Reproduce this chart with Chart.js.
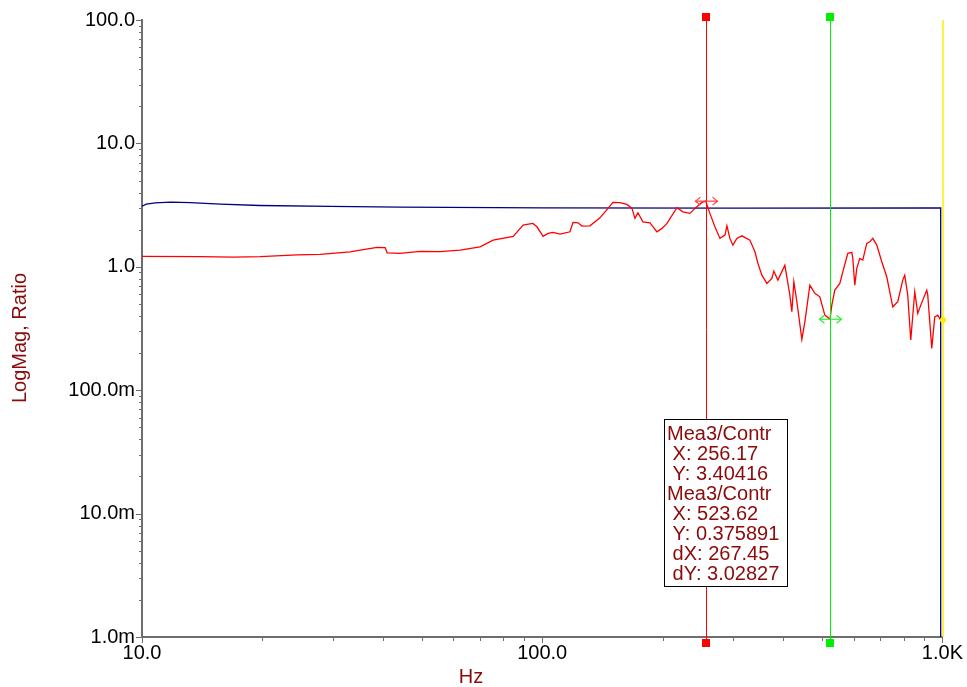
<!DOCTYPE html>
<html>
<head>
<meta charset="utf-8">
<title>LogMag, Ratio</title>
<script src="https://cdn.jsdelivr.net/npm/chart.js@4/dist/chart.umd.min.js"></script>
<style>
  html, body { margin: 0; padding: 0; background: #ffffff; }
  #wrap { width: 967px; height: 687px; }
</style>
</head>
<body>
<div id="wrap"><canvas id="chart" width="967" height="687"></canvas></div>
<script>
// Measured trace: frequency (Hz) and magnitude ratio
const measFreq = [10, 13.98, 16.9, 19.74, 24.42, 27.87, 33.12, 35.09, 38.68, 40.51, 40.98, 44.16, 49.55, 55.58,
  62.35, 69.94, 75.4, 84.6, 89.6, 91.6, 94.8, 97.0, 100.5, 103.4, 106.4, 110.8, 117.3, 119.4, 122.9, 125.7,
  131.6, 139.4, 146.0, 150.2, 156.4, 162.8, 167.6, 170.5, 173.5, 178.5, 185.9, 193.5, 199.2, 205.0, 217.1,
  224.7, 233.9, 240.7, 250.6, 256.17, 262.4, 270.1, 278.0, 286.2, 289.4, 294.4, 299.5, 306.5, 315.4, 330.3,
  340.0, 345.9, 353.9, 364.2, 374.8, 379.1, 388.0, 403.9, 415.7, 420.5, 425.4, 432.8, 445.4, 453.2, 466.4,
  479.9, 493.9, 508.3, 523.62, 529.2, 538.4, 554.1, 563.7, 580.2, 593.7, 597.1, 604.0, 610.9, 621.6, 632.4,
  647.1, 658.4, 669.9, 685.5, 705.4, 725.9, 738.6, 751.5, 773.4, 795.9, 805.1, 819.1, 833.4, 852.8, 867.7,
  882.8, 893.0, 913.8, 919.1, 940.4, 956.8, 973.4, 990.4];
const measMag = [1.214, 1.21, 1.198, 1.21, 1.251, 1.26, 1.323, 1.366, 1.436, 1.431, 1.299, 1.284, 1.333, 1.328,
  1.366, 1.453, 1.646, 1.764, 2.177, 2.206, 2.247, 2.11, 1.764, 1.865, 1.9, 1.841, 1.921, 2.29, 2.273, 2.137,
  2.149, 2.495, 2.973, 3.325, 3.313, 3.204, 2.973, 2.467, 2.74, 2.316, 2.273, 1.921, 2.047, 2.247, 3.018,
  2.791, 2.709, 2.973, 3.325, 3.40416, 2.709, 2.11, 1.699, 1.807, 2.149, 1.699, 1.499, 1.699, 1.783, 1.646,
  1.323, 1.066, 0.856, 0.734, 0.805, 0.923, 0.78, 1.032, 0.59, 0.432, 0.756, 0.521, 0.258, 0.358, 0.711,
  0.609, 0.571, 0.406, 0.375891, 0.489, 0.647, 0.734, 0.911, 1.284, 1.308, 1.17, 0.711, 0.971, 1.17, 1.133,
  1.547, 1.594, 1.699, 1.499, 1.098, 0.83, 0.627, 0.474, 0.521, 0.78, 0.856, 0.59, 0.255, 0.627, 0.419,
  0.489, 0.537, 0.647, 0.59, 0.218, 0.393, 0.406, 0.37];

// Reference trace (ends with a drop below the axis floor)
const refFreq = [10, 10.25, 10.8, 11.8, 13.2, 15.7, 19.7, 29.5, 44.2, 100, 300, 990, 990.01];
const refMag = [3.1, 3.22, 3.3, 3.34, 3.31, 3.22, 3.14, 3.09, 3.04, 3.0, 2.99, 3.0, 0.000001];

// Axis ticks
const xDecades = [10, 100];
const xMajorValues = [10, 100, 1000];
const xMajorLabels = ['10.0', '100.0', '1.0K'];
const yDecades = [0.001, 0.01, 0.1, 1, 10];
const yMajorValues = [0.001, 0.01, 0.1, 1, 10, 100];
const yMajorLabels = ['1.0m', '10.0m', '100.0m', '1.0', '10.0', '100.0'];

// Cursor readouts
const cursorNames = ['Mea3/Contr', 'Mea3/Contr'];
const cursorFreq = [256.17, 523.62];
const cursorMag = [3.40416, 0.375891];
const cursorColors = ['#ff0000', '#00ee00'];
const arrowColors = ['#ff3b3b', '#33ee33'];
const endCursorFreq = 1000;
const endCursorMag = 0.37;

const TEXT_RED = '#8b0a0a';
const AXIS_GREY = '#6e6e6e';
const FONT = "'Liberation Sans', Arial, Helvetica, sans-serif";

function decadeTicks(decades, last) {
  const out = [];
  decades.forEach(d => { for (let k = 1; k <= 9; k++) out.push(+(k * d).toPrecision(4)); });
  out.push(last);
  return out;
}
const xTickValues = decadeTicks(xDecades, 1000);
const yTickValues = decadeTicks(yDecades, 100);

function majorLabel(value, majors, labels) {
  for (let i = 0; i < majors.length; i++) {
    if (Math.abs(value - majors[i]) <= majors[i] * 1e-6) return labels[i];
  }
  return '';
}
function isMajor(value, majors) {
  return majors.some(m => Math.abs(value - m) <= m * 1e-6);
}

function line(ctx, x1, y1, x2, y2) {
  ctx.beginPath(); ctx.moveTo(x1, y1); ctx.lineTo(x2, y2); ctx.stroke();
}

function drawArrow(ctx, cx, cy, color) {
  const half = 11, head = 5, hh = 4;
  ctx.strokeStyle = color;
  ctx.lineWidth = 1.2;
  line(ctx, cx - half, cy, cx + half, cy);
  ctx.beginPath();
  ctx.moveTo(cx - half + head, cy - hh); ctx.lineTo(cx - half, cy); ctx.lineTo(cx - half + head, cy + hh);
  ctx.moveTo(cx + half - head, cy - hh); ctx.lineTo(cx + half, cy); ctx.lineTo(cx + half - head, cy + hh);
  ctx.stroke();
}

const overlay = {
  id: 'overlay',
  afterDatasetsDraw(chart) {
    const { ctx, chartArea: ca, scales: { x, y } } = chart;
    ctx.save();

    // end-of-band cursor
    const xe = x.getPixelForValue(endCursorFreq) + 0.6;
    ctx.strokeStyle = '#ffee00';
    ctx.lineWidth = 1.5;
    line(ctx, xe, ca.top, xe, ca.bottom);
    ctx.fillStyle = '#ffee00';
    ctx.beginPath();
    ctx.arc(xe, y.getPixelForValue(endCursorMag), 3, 0, Math.PI * 2);
    ctx.fill();

    // band cursors with end squares and value arrows
    cursorFreq.forEach((f, i) => {
      const px = Math.round(x.getPixelForValue(f)) + 0.5;
      ctx.strokeStyle = cursorColors[i];
      ctx.lineWidth = 1;
      line(ctx, px, ca.top - 1, px, ca.bottom + 3);
      ctx.fillStyle = cursorColors[i];
      ctx.fillRect(px - 4.5, ca.top - 7, 8, 8);
      ctx.fillRect(px - 4.5, ca.bottom + 2, 8, 8);
      drawArrow(ctx, px, y.getPixelForValue(cursorMag[i]), arrowColors[i]);
    });

    // readout box
    const bx = 664.5, by = 419.5, bw = 123, bh = 167;
    ctx.fillStyle = '#ffffff';
    ctx.fillRect(bx, by, bw, bh);
    ctx.strokeStyle = '#000000';
    ctx.lineWidth = 1;
    ctx.strokeRect(bx, by, bw, bh);
    const lines = [
      cursorNames[0],
      ' X: ' + cursorFreq[0].toFixed(2),
      ' Y: ' + cursorMag[0].toPrecision(6),
      cursorNames[1],
      ' X: ' + cursorFreq[1].toFixed(2),
      ' Y: ' + cursorMag[1].toPrecision(6),
      ' dX: ' + (cursorFreq[1] - cursorFreq[0]).toFixed(2),
      ' dY: ' + Math.abs(cursorMag[0] - cursorMag[1]).toPrecision(6)
    ];
    ctx.fillStyle = TEXT_RED;
    ctx.font = '20px ' + FONT;
    ctx.textAlign = 'left';
    ctx.textBaseline = 'alphabetic';
    lines.forEach((t, i) => ctx.fillText(t, 667, 440 + i * 20));
    ctx.restore();
  },
  afterDraw(chart) {
    const { ctx, chartArea: ca, scales: { x, y } } = chart;
    ctx.save();
    ctx.strokeStyle = AXIS_GREY;
    ctx.lineWidth = 1;
    y.ticks.forEach(t => {
      const py = Math.round(y.getPixelForValue(t.value)) + 0.5;
      const len = isMajor(t.value, yMajorValues) ? 6 : 3;
      line(ctx, ca.left - len, py, ca.left, py);
    });
    x.ticks.forEach(t => {
      const px = Math.round(x.getPixelForValue(t.value)) + 0.5;
      const len = isMajor(t.value, xMajorValues) ? 6 : 4;
      line(ctx, px, ca.bottom, px, ca.bottom + len);
    });

    // axis titles
    ctx.fillStyle = TEXT_RED;
    ctx.font = '20px ' + FONT;
    ctx.textAlign = 'center';
    ctx.textBaseline = 'alphabetic';
    ctx.fillText('Hz', 471, 683);
    ctx.translate(25.5, 338);
    ctx.rotate(-Math.PI / 2);
    ctx.fillText('LogMag, Ratio', 0, 0);
    ctx.restore();
  }
};

Chart.defaults.font.family = FONT;
Chart.defaults.font.size = 20;
Chart.defaults.color = '#000000';

new Chart(document.getElementById('chart'), {
  type: 'line',
  data: {
    datasets: [
      {
        label: 'Mea3/Contr',
        data: measFreq.map((f, i) => ({ x: f, y: measMag[i] })),
        borderColor: '#ff0000',
        borderWidth: 1.3,
        pointRadius: 0,
        tension: 0,
        fill: false
      },
      {
        label: 'Reference',
        data: refFreq.map((f, i) => ({ x: f, y: refMag[i] })),
        borderColor: '#000080',
        borderWidth: 1.3,
        pointRadius: 0,
        tension: 0,
        fill: false
      }
    ]
  },
  options: {
    responsive: false,
    animation: false,
    devicePixelRatio: 1,
    layout: { padding: { top: 20, right: 24, left: 0, bottom: 0 } },
    plugins: { legend: { display: false }, tooltip: { enabled: false } },
    scales: {
      x: {
        type: 'logarithmic',
        min: 10,
        max: 1000,
        afterBuildTicks: s => { s.ticks = xTickValues.map(v => ({ value: v })); },
        afterFit: s => { s.height = 50; },
        ticks: {
          autoSkip: false,
          maxRotation: 0,
          minRotation: 0,
          padding: 4,
          color: '#000000',
          font: { size: 20 },
          callback: v => majorLabel(v, xMajorValues, xMajorLabels)
        },
        grid: { display: false, drawTicks: false },
        border: { display: true, color: AXIS_GREY, width: 2 }
      },
      y: {
        type: 'logarithmic',
        min: 0.001,
        max: 100,
        afterBuildTicks: s => { s.ticks = yTickValues.map(v => ({ value: v })); },
        afterFit: s => { s.width = 142; },
        ticks: {
          autoSkip: false,
          padding: 7,
          color: '#000000',
          font: { size: 20 },
          callback: v => majorLabel(v, yMajorValues, yMajorLabels)
        },
        grid: { display: false, drawTicks: false },
        border: { display: true, color: AXIS_GREY, width: 2 }
      }
    }
  },
  plugins: [overlay]
});
</script>
</body>
</html>
